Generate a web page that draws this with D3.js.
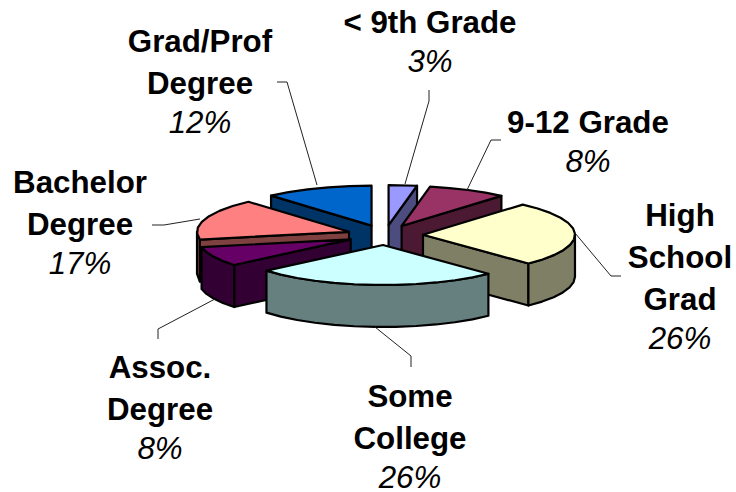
<!DOCTYPE html>
<html>
<head>
<meta charset="utf-8">
<style>
  body { margin: 0; background: #fff; }
  text { font-family: "Liberation Sans", Arial, sans-serif; font-size: 31.3px; fill: #000; text-anchor: middle; }
</style>
<script src="https://cdnjs.cloudflare.com/ajax/libs/d3/7.8.5/d3.min.js"></script>
</head>
<body>
<svg width="736" height="492"></svg>
<script>
// data, clockwise from the top
var categories = [['< 9th Grade'], ['9-12 Grade'], ['High', 'School', 'Grad'], ['Some', 'College'], ['Assoc.', 'Degree'], ['Bachelor', 'Degree'], ['Grad/Prof', 'Degree']];
var shares = [3.0, 8.4, 26.4, 26.1, 8.0, 16.6, 11.5];
var pctLabels = ['3%', '8%', '26%', '26%', '8%', '17%', '12%'];

var topColors = ['#9999ff', '#993366', '#ffffcc', '#ccffff', '#660066', '#ff8080', '#0066cc'];
var wallColors = ['#4c4c7f', '#4c1933', '#7f7f66', '#667f7f', '#330033', '#7f4040', '#003366'];

// label centre x and first baseline, one per category
var labelX = [430, 588, 680, 410, 160, 80, 200];
var labelY = [33, 133, 226, 407, 378, 193, 52];
var lineGap = 42;

// leader lines, outer end to the pie
var leaders = [
  [[429, 90], [429, 101], [405, 184]],
  [[501, 140], [491, 140], [467, 190]],
  [[621, 276], [611, 276], [575, 233]],
  [[411, 367], [411, 356], [375, 327]],
  [[158, 339], [158, 329], [215, 299]],
  [[152, 225], [164, 225], [200, 219]],
  [[277, 82], [287, 82], [317, 185]]
];

// pie geometry
var cx = 385, cy = 235, explode = 0.25, depth = 42;
var xScale = d3.scaleLinear().domain([-1, 1]).range([-152, 152]);
var yScale = d3.scaleLinear().domain([-1, 1]).range([-40, 40]);

var svg = d3.select('svg');
var line = d3.line();

var arcs = d3.pie().sort(null).value(d => d)(shares);
arcs.forEach(function(d, i) {
  d.i = i;
  var mid = (d.startAngle + d.endAngle) / 2;
  d.apex = [cx + xScale(explode * Math.sin(mid)), cy + yScale(-explode * Math.cos(mid))];
});

function rimPoint(d, a, drop) {
  return [d.apex[0] + xScale(Math.sin(a)), d.apex[1] + yScale(-Math.cos(a)) + drop];
}

// the rim is a coarse polyline, the original has that faceted look too
function rim(d, a0, a1, drop) {
  var n = Math.max(1, Math.round((a1 - a0) / 0.14));
  return d3.range(n + 1).map(j => rimPoint(d, a0 + (a1 - a0) * j / n, drop));
}

function radialWall(d, a) {
  return [d.apex, rimPoint(d, a, 0), rimPoint(d, a, depth), [d.apex[0], d.apex[1] + depth]];
}

function drawFace(points, fill) {
  svg.append('path')
    .attr('d', line(points) + 'Z')
    .attr('fill', fill)
    .attr('stroke', '#000')
    .attr('stroke-width', 2.2)
    .attr('stroke-linejoin', 'round');
}

// back slices first so the front ones paint over them
arcs.slice().sort((a, b) => d3.ascending(a.apex[1], b.apex[1])).forEach(function(d) {
  var wall = wallColors[d.i];
  if (Math.sin(d.startAngle) < -0.001) drawFace(radialWall(d, d.startAngle), wall);
  if (Math.sin(d.endAngle) > 0.001) drawFace(radialWall(d, d.endAngle), wall);

  // outer wall, only the part facing the viewer
  var a0 = Math.max(d.startAngle, Math.PI / 2);
  var a1 = Math.min(d.endAngle, Math.PI * 1.5);
  if (a1 > a0) {
    drawFace(rim(d, a0, a1, 0).concat(rim(d, a0, a1, depth).reverse()), wall);
  }

  drawFace([d.apex].concat(rim(d, d.startAngle, d.endAngle, 0)), topColors[d.i]);
});

// leader lines
svg.selectAll('.leader')
  .data(leaders)
  .enter()
  .append('path')
    .attr('class', 'leader')
    .attr('d', d => line(d))
    .attr('fill', 'none')
    .attr('stroke', '#222')
    .attr('stroke-width', 1);

// labels
categories.forEach(function(lines, i) {
  lines.forEach(function(t, j) {
    svg.append('text')
      .attr('x', labelX[i])
      .attr('y', labelY[i] + j * lineGap)
      .style('font-weight', 'bold')
      .text(t);
  });
  svg.append('text')
    .attr('x', labelX[i])
    .attr('y', labelY[i] + lines.length * lineGap - 3)
    .style('font-style', 'italic')
    .text(pctLabels[i]);
});
</script>
</body>
</html>
